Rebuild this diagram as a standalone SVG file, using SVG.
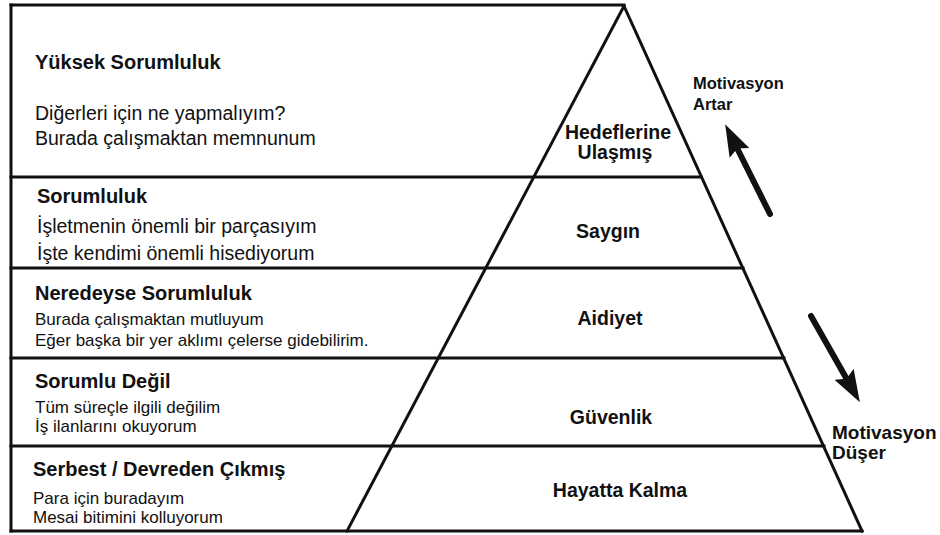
<svg xmlns="http://www.w3.org/2000/svg" width="940" height="535" viewBox="0 0 940 535">
  <style>
    .frame { stroke: #111; stroke-width: 3; fill: none; stroke-linecap: square; }
    .txt { font-family: "Liberation Sans", Arial, sans-serif; fill: #111; }
    .head { font-weight: bold; font-size: 20px; }
    .body { font-size: 19.5px; }
    .small { font-size: 17px; }
    .lvl { font-weight: bold; font-size: 19.5px; text-anchor: middle; }
    .arrow { stroke: #111; stroke-width: 6; stroke-linecap: round; fill: none; }
  </style>
  <defs>
    <marker id="arrowhead" viewBox="0 0 32 22" markerWidth="32" markerHeight="22" refX="10" refY="11" orient="auto" markerUnits="userSpaceOnUse">
      <path d="M0,0 L32,11 L0,22 L5,11 z" fill="#111"/>
    </marker>
  </defs>
  <rect width="940" height="535" fill="#fff"/>

  <!-- outer frame, pyramid and tier separators -->
  <g id="structure" class="frame">
    <line x1="11" y1="5" x2="11" y2="531"/>
    <line x1="11" y1="5" x2="624" y2="5"/>
    <line x1="11" y1="531" x2="862" y2="531"/>
    <line x1="624" y1="6" x2="347" y2="531"/>
    <line x1="624" y1="6" x2="862" y2="531"/>
    <line x1="11" y1="177" x2="701" y2="177"/>
    <line x1="11" y1="268" x2="743" y2="268"/>
    <line x1="11" y1="358" x2="784" y2="358"/>
    <line x1="11" y1="446" x2="824" y2="446"/>
  </g>

  <!-- tier 5 -->
  <g id="tier-high-responsibility" class="txt">
    <text class="head" x="35" y="69">Yüksek Sorumluluk</text>
    <text class="body" x="35" y="120">Diğerleri için ne yapmalıyım?</text>
    <text class="body" x="35" y="145">Burada çalışmaktan memnunum</text>
    <text class="lvl" x="618" y="139">Hedeflerine</text>
    <text class="lvl" x="615" y="159">Ulaşmış</text>
  </g>

  <!-- tier 4 -->
  <g id="tier-responsibility" class="txt">
    <text class="head" x="37" y="203">Sorumluluk</text>
    <text class="body" x="37" y="233">İşletmenin önemli bir parçasıyım</text>
    <text class="body" x="37" y="260">İşte kendimi önemli hisediyorum</text>
    <text class="lvl" x="608" y="238">Saygın</text>
  </g>

  <!-- tier 3 -->
  <g id="tier-almost-responsibility" class="txt">
    <text class="head" x="35" y="300">Neredeyse Sorumluluk</text>
    <text class="small" x="35" y="325">Burada çalışmaktan mutluyum</text>
    <text class="small" x="35" y="346">Eğer başka bir yer aklımı çelerse gidebilirim.</text>
    <text class="lvl" x="610" y="325">Aidiyet</text>
  </g>

  <!-- tier 2 -->
  <g id="tier-not-responsible" class="txt">
    <text class="head" x="35" y="388">Sorumlu Değil</text>
    <text class="small" x="35" y="413">Tüm süreçle ilgili değilim</text>
    <text class="small" x="35" y="432">İş ilanlarını okuyorum</text>
    <text class="lvl" x="611" y="424">Güvenlik</text>
  </g>

  <!-- tier 1 -->
  <g id="tier-disengaged" class="txt">
    <text class="head" x="33" y="476">Serbest / Devreden Çıkmış</text>
    <text class="small" x="33" y="504">Para için buradayım</text>
    <text class="small" x="33" y="523">Mesai bitimini kolluyorum</text>
    <text class="lvl" x="620" y="497">Hayatta Kalma</text>
  </g>

  <!-- side captions -->
  <g id="label-motivation-up" class="txt" font-weight="bold" font-size="16.5">
    <text x="693" y="89">Motivasyon</text>
    <text x="693" y="110">Artar</text>
  </g>
  <g id="label-motivation-down" class="txt" font-weight="bold" font-size="19">
    <text x="832" y="439">Motivasyon</text>
    <text x="832" y="459">Düşer</text>
  </g>

  <!-- motivation arrows -->
  <g id="connectors">
    <line class="arrow" x1="770" y1="214" x2="735" y2="144" marker-end="url(#arrowhead)"/>
    <line class="arrow" x1="811" y1="316" x2="849" y2="383" marker-end="url(#arrowhead)"/>
  </g>
</svg>
